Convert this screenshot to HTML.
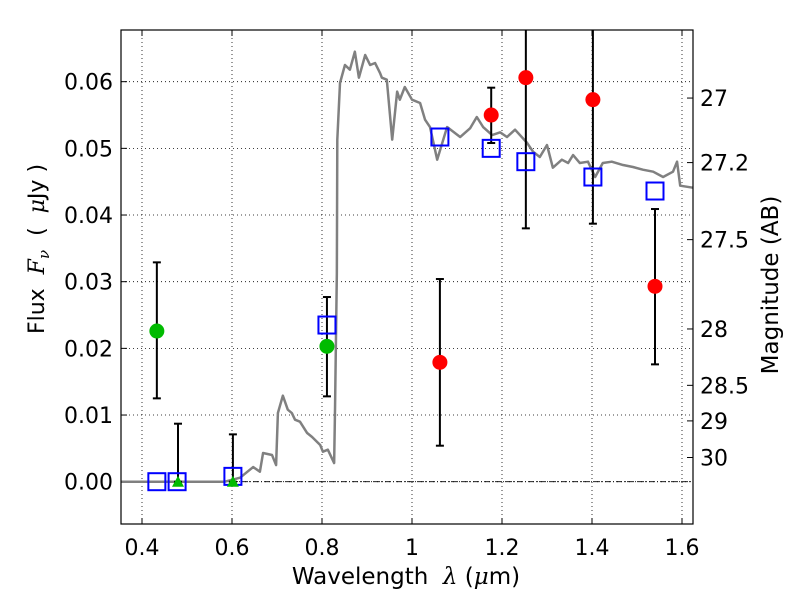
<!DOCTYPE html>
<html><head><meta charset="utf-8"><style>
body{margin:0;background:#fff}
svg{display:block;font-family:"DejaVu Sans","Liberation Sans",sans-serif}
</style></head><body>
<svg id="chart" width="800" height="600"></svg>
<script>
const xTicks=[0.4,0.6,0.8,1.0,1.2,1.4,1.6];
const xTickLabels=["0.4","0.6","0.8","1","1.2","1.4","1.6"];
const yTicks=[0,0.01,0.02,0.03,0.04,0.05,0.06];
const yTickLabels=["0.00","0.01","0.02","0.03","0.04","0.05","0.06"];
const magTicks=[27,27.2,27.5,28,28.5,29,30];
const magTickLabels=["27","27.2","27.5","28","28.5","29","30"];
const specLam=[0.353,0.584,0.618,0.647,0.662,0.669,0.689,0.698,0.702,0.713,0.724,0.733,0.740,0.751,0.767,0.778,0.796,0.802,0.813,0.827,0.829,0.833,0.834,0.840,0.851,0.862,0.873,0.882,0.896,0.907,0.918,0.929,0.933,0.944,0.956,0.967,0.973,0.984,1.0,1.018,1.029,1.040,1.056,1.078,1.107,1.129,1.144,1.158,1.178,1.196,1.211,1.229,1.256,1.269,1.284,1.3,1.313,1.333,1.347,1.358,1.373,1.391,1.407,1.424,1.444,1.469,1.491,1.513,1.536,1.558,1.58,1.589,1.596,1.624];
const specFlux=[0,0,0.0006,0.0022,0.0015,0.0043,0.004,0.0025,0.0103,0.0129,0.0108,0.0103,0.0093,0.009,0.0073,0.0067,0.0055,0.0045,0.0048,0.0028,0.0112,0.0313,0.0513,0.0598,0.0625,0.0618,0.0645,0.0606,0.064,0.0625,0.0628,0.0613,0.0606,0.0603,0.0513,0.0585,0.0573,0.0592,0.0573,0.0568,0.0543,0.0532,0.0483,0.0532,0.0517,0.053,0.0547,0.0532,0.052,0.0524,0.0517,0.0528,0.0508,0.0495,0.0487,0.0505,0.0471,0.0483,0.0478,0.049,0.0478,0.048,0.0457,0.0478,0.048,0.0475,0.0472,0.0468,0.0465,0.0457,0.0465,0.048,0.0444,0.0441];
const redLam=[1.062,1.176,1.253,1.402,1.54];
const redFlux=[0.0179,0.055,0.0606,0.0573,0.0293];
const redLo=[0.0054,0.0508,0.038,0.0387,0.0176];
const redHi=[0.0304,0.0591,0.08,0.08,0.0409];
const greenLam=[0.433,0.811];
const greenFlux=[0.0226,0.0203];
const greenLo=[0.0125,0.0128];
const greenHi=[0.0329,0.0277];
const triLam=[0.48,0.602];
const triFlux=[0,0];
const triHi=[0.0087,0.0071];
const blueLam=[0.433,0.478,0.602,0.811,1.062,1.176,1.253,1.402,1.54];
const blueFlux=[0,0,0.0008,0.0235,0.0517,0.05,0.048,0.0457,0.0436];

const L=121,R=693,T=30,B=524;
const X=v=>142+(v-0.4)*450;
const Y=v=>481.7-v*6667;
const svg=document.getElementById('chart');
const NS='http://www.w3.org/2000/svg';
function mk(tag,at,name,parent){const e=document.createElementNS(NS,tag);for(const k in at)e.setAttribute(k,at[k]);


(parent||svg).appendChild(e);return e;}
const clip=mk('clipPath',{id:'pc'},'plot-clip');mk('rect',{x:L,y:T,width:R-L,height:B-T},'plot-clip-rect',clip);
const grid=mk('g',{stroke:'#000','stroke-width':0.8,'stroke-dasharray':'1,3'},'grid');
xTicks.forEach((t,i)=>{mk('line',{x1:X(t),x2:X(t),y1:T,y2:B},'x-grid-line',grid);
 const tx=mk('text',{x:X(t),y:555,'text-anchor':'middle','font-size':22},'x-tick-label');tx.textContent=xTickLabels[i];
 mk('line',{x1:X(t),x2:X(t),y1:B,y2:B-6,stroke:'#000'},'x-tick');mk('line',{x1:X(t),x2:X(t),y1:T,y2:T+6,stroke:'#000'},'x-tick-top');});
yTicks.forEach((t,i)=>{mk('line',{x1:L,x2:R,y1:Y(t),y2:Y(t)},'y-grid-line',grid);
 const tx=mk('text',{x:113,y:Y(t)+8,'text-anchor':'end','font-size':22},'y-tick-label');tx.textContent=yTickLabels[i];
 mk('line',{x1:L,x2:L+6,y1:Y(t),y2:Y(t),stroke:'#000'},'y-tick');});
magTicks.forEach((m,i)=>{const f=Math.pow(10,(23.9-m)/2.5);const y=Y(f);
 mk('line',{x1:R,x2:R-6,y1:y,y2:y,stroke:'#000'},'mag-tick');
 const tx=mk('text',{x:700,y:y+8,'font-size':22},'mag-tick-label');tx.textContent=magTickLabels[i];});
mk('line',{x1:L,x2:R,y1:Y(0),y2:Y(0),stroke:'#000','stroke-width':0.8,'stroke-dasharray':'6,2,1,2'},'zero-line');
const pg=mk('g',{'clip-path':'url(#pc)'},'plot-area');
mk('polyline',{points:specLam.map((l,i)=>X(l)+','+Y(specFlux[i])).join(' '),fill:'none',stroke:'#808080','stroke-width':2.5,'stroke-linejoin':'round'},'model-spectrum',pg);
function err(lam,lo,hi,name){lam.forEach((l,i)=>{const x=X(l);
 mk('line',{x1:x,x2:x,y1:Y(lo[i]),y2:Y(hi[i]),stroke:'#000','stroke-width':2},name,pg);
 mk('line',{x1:x-4,x2:x+4,y1:Y(lo[i]),y2:Y(lo[i]),stroke:'#000','stroke-width':2},name+'-cap',pg);
 mk('line',{x1:x-4,x2:x+4,y1:Y(hi[i]),y2:Y(hi[i]),stroke:'#000','stroke-width':2},name+'-cap',pg);});}
err(redLam,redLo,redHi,'red-errorbar');
err(greenLam,greenLo,greenHi,'green-errorbar');
err(triLam,triFlux,triHi,'triangle-errorbar');
blueLam.forEach((l,i)=>mk('rect',{x:X(l)-8.5,y:Y(blueFlux[i])-8.5,width:17,height:17,fill:'none',stroke:'#0000ff','stroke-width':2},'model-photometry-square',pg));
redLam.forEach((l,i)=>mk('circle',{cx:X(l),cy:Y(redFlux[i]),r:7.5,fill:'#ff0000'},'red-detection',pg));
greenLam.forEach((l,i)=>mk('circle',{cx:X(l),cy:Y(greenFlux[i]),r:7.5,fill:'#00bb00'},'green-detection',pg));
triLam.forEach((l,i)=>{const x=X(l),y=Y(triFlux[i]);mk('polygon',{points:`${x-6},${y+5} ${x+6},${y+5} ${x},${y-6}`,fill:'#00bb00'},'green-upper-limit',pg);});
mk('rect',{x:L,y:T,width:R-L,height:B-T,fill:'none',stroke:'#000','stroke-width':1.2},'plot-frame');
const xl=mk('text',{x:406,y:584,'text-anchor':'middle','font-size':23},'x-axis-title');xl.setAttribute('style','white-space:pre');xl.innerHTML='Wavelength  <tspan font-style="italic" font-family="DejaVu Serif">λ</tspan> (<tspan font-style="italic" font-family="DejaVu Serif">μ</tspan>m)';
const yl=mk('text',{x:0,y:0,'text-anchor':'middle','font-size':22,transform:'translate(44,249) rotate(-90)'},'y-axis-title');yl.setAttribute('style','white-space:pre');yl.innerHTML='Flux  <tspan font-style="italic" font-family="DejaVu Serif">F</tspan><tspan font-style="italic" font-size="15" dy="5" font-family="DejaVu Serif">ν</tspan><tspan dy="-5">  (  </tspan><tspan font-style="italic" font-family="DejaVu Serif">μ</tspan>Jy )';
const ml=mk('text',{x:0,y:0,'text-anchor':'middle','font-size':23,transform:'translate(778,285) rotate(-90)'},'right-axis-title');ml.textContent='Magnitude (AB)';
</script>
</body></html>
